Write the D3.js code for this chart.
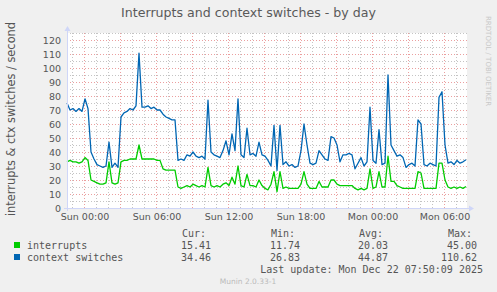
<!DOCTYPE html>
<html>
<head>
<meta charset="utf-8">
<script src="https://cdn.jsdelivr.net/npm/d3@7/dist/d3.min.js"></script>
<style>
  body { margin: 0; background: #f0f0f0; }
  svg { display: block; }
  text { fill: #555; }
</style>
</head>
<body>
<script>
// samples every 15 minutes, starting Sat 20 Dec 22:35
var startTime = new Date(2025, 11, 20, 22, 35);
var stepMinutes = 15;

var interrupts = [
  33, 34, 33, 33, 32, 33, 36, 34, 20, 19,
  18, 17, 17, 18, 33, 18, 17, 18, 33, 34,
  34, 35, 35, 35, 45, 35, 35, 35, 35, 35,
  34, 34, 28, 27, 27, 27, 27, 15, 14, 15,
  16, 15, 17, 16, 15, 16, 15, 29, 16, 15,
  16, 15, 17, 18, 16, 22, 17, 30, 16, 15,
  24, 16, 16, 15, 20, 16, 14, 13, 17, 26,
  11.74, 26, 14, 15, 14, 14, 14, 14, 17, 26,
  17, 14, 14, 14, 19, 15, 15, 15, 20, 20,
  17, 16, 16, 16, 16, 16, 14, 13, 14, 13,
  14, 28, 14, 15, 26, 15, 15, 37, 19, 19,
  16, 15, 14, 14, 14, 14, 14, 26, 25, 14,
  14, 14, 14, 14, 32, 32, 20, 15, 14, 15,
  14, 15, 14, 15.41
];

var contextSwitches = [
  75, 70, 71, 69, 71, 69, 78, 71, 40, 35,
  31, 30, 29, 30, 47, 29, 32, 29, 65, 68,
  69, 71, 70, 73, 110.62, 72, 72, 73, 71, 72,
  70, 70, 67, 65, 64, 63, 63, 34, 35, 34,
  38, 37, 40, 37, 36, 37, 35, 77, 40, 38,
  37, 36, 41, 48, 38, 53, 41, 78, 38, 36,
  57, 38, 39, 37, 47, 38, 37, 34, 30, 59,
  26.83, 59, 31, 33, 30, 31, 29, 30, 41, 60,
  45, 32, 31, 32, 41, 38, 35, 34, 51, 50,
  45, 33, 38, 38, 39, 38, 28, 32, 36, 30,
  33, 72, 34, 32, 56, 31, 32, 95, 45, 41,
  37, 38, 36, 29, 31, 32, 30, 63, 60, 31,
  30, 32, 31, 30, 79, 83, 45, 32, 33, 31,
  34, 32, 33, 34.46
];

var seriesNames = ["interrupts", "context switches"];
var seriesColors = ["#00cc00", "#0066b3"];
var curValues = ["15.41", "34.46"];
var minValues = ["11.74", "26.83"];
var avgValues = ["20.03", "44.87"];
var maxValues = ["45.00", "110.62"];
var yTicks = d3.range(0, 121, 10);

var width = 497, height = 292;
var plot = {left: 67, right: 467, top: 33, bottom: 208};

var endTime = new Date(startTime.getTime() + 400 * 5 * 60000);
var x = d3.scaleTime().domain([startTime, endTime]).range([plot.left, plot.right]);
var y = d3.scaleLinear().domain([0, 125]).range([plot.bottom, plot.top]);

function timeAt(i) { return new Date(startTime.getTime() + i * stepMinutes * 60000); }

var svg = d3.select("body").append("svg")
    .attr("width", width)
    .attr("height", height);

svg.append("rect").attr("width", width).attr("height", height).attr("fill", "#f0f0f0");
svg.append("rect")
    .attr("x", plot.left).attr("y", plot.top)
    .attr("width", plot.right - plot.left).attr("height", plot.bottom - plot.top)
    .attr("fill", "#fff");

// grid
var grid = svg.append("g").attr("shape-rendering", "crispEdges");
var hours = d3.timeHour.range(startTime, endTime);
grid.selectAll(".vgrid")
    .data(hours)
  .enter().append("line")
    .attr("x1", function(d) { return Math.round(x(d)) + 0.5; })
    .attr("x2", function(d) { return Math.round(x(d)) + 0.5; })
    .attr("y1", plot.top).attr("y2", plot.bottom)
    .attr("stroke", function(d) { return d.getHours() % 3 == 0 ? "#eb9f9f" : "#c4c4c4"; })
    .attr("stroke-dasharray", "1,2");

grid.selectAll(".hgrid")
    .data(d3.range(5, 126, 5))
  .enter().append("line")
    .attr("x1", plot.left).attr("x2", plot.right)
    .attr("y1", function(d) { return Math.round(y(d)) + 0.5; })
    .attr("y2", function(d) { return Math.round(y(d)) + 0.5; })
    .attr("stroke", function(d) { return d % 10 == 0 ? "#eb9f9f" : "#c4c4c4"; })
    .attr("stroke-dasharray", "1,2");

// series
var line = d3.line()
    .x(function(d, i) { return x(timeAt(i)); })
    .y(function(d) { return y(d); });

[interrupts, contextSwitches].forEach(function(s, k) {
  svg.append("path")
      .attr("d", line(s))
      .attr("fill", "none")
      .attr("stroke", seriesColors[k])
      .attr("stroke-width", 1.3)
      .attr("stroke-linejoin", "round");
});

// axes with arrows
var axisColor = "#cfd6f8";
svg.append("line").attr("x1", plot.left - 3).attr("x2", plot.right + 3)
    .attr("y1", plot.bottom + 0.5).attr("y2", plot.bottom + 0.5)
    .attr("stroke", axisColor).attr("shape-rendering", "crispEdges");
svg.append("line").attr("x1", plot.left + 0.5).attr("x2", plot.left + 0.5)
    .attr("y1", plot.bottom + 3).attr("y2", plot.top - 3)
    .attr("stroke", axisColor).attr("shape-rendering", "crispEdges");
svg.append("path")
    .attr("d", "M" + (plot.right + 2) + "," + (plot.bottom - 2.5) + "L" + (plot.right + 7) + "," + (plot.bottom + 0.5) + "L" + (plot.right + 2) + "," + (plot.bottom + 3.5) + "Z")
    .attr("fill", axisColor);
svg.append("path")
    .attr("d", "M" + (plot.left - 2.5) + "," + (plot.top - 2) + "L" + (plot.left + 0.5) + "," + (plot.top - 7) + "L" + (plot.left + 3.5) + "," + (plot.top - 2) + "Z")
    .attr("fill", axisColor);

// y tick labels
svg.selectAll(".ylab")
    .data(yTicks)
  .enter().append("text")
    .attr("x", 61)
    .attr("y", function(d) { return y(d) + 3.5; })
    .attr("text-anchor", "end")
    .attr("font-family", "DejaVu Sans")
    .attr("font-size", "9.5px")
    .text(function(d) { return d; });

// x tick labels
var fmt = d3.timeFormat("%a %H:%M");
svg.selectAll(".xlab")
    .data(d3.timeHour.every(6).range(startTime, endTime))
  .enter().append("text")
    .attr("x", function(d) { return x(d) + 1; })
    .attr("y", 220)
    .attr("text-anchor", "middle")
    .attr("font-family", "DejaVu Sans")
    .attr("font-size", "9.5px")
    .text(function(d) { return fmt(d); });

// title and labels
svg.append("text")
    .attr("x", 248.5).attr("y", 17)
    .attr("text-anchor", "middle")
    .attr("font-family", "DejaVu Sans")
    .attr("font-size", "12.6px")
    .style("fill", "#5a5a5a")
    .text("Interrupts and context switches - by day");

svg.append("text")
    .attr("transform", "translate(14.5,119) rotate(-90)")
    .attr("text-anchor", "middle")
    .attr("font-family", "DejaVu Sans")
    .attr("font-size", "11.4px")
    .text("interrupts & ctx switches / second");

svg.append("text")
    .attr("transform", "translate(486,16) rotate(90)")
    .attr("font-family", "DejaVu Sans")
    .attr("font-size", "7px")
    .style("fill", "#c8c8c8")
    .text("RRDTOOL / TOBI OETIKER");

// legend
var mono = "DejaVu Sans Mono";
var headers = [["Cur:", 182], ["Min:", 271], ["Avg:", 359], ["Max:", 448]];
headers.forEach(function(h) {
  svg.append("text").attr("x", h[1]).attr("y", 237)
      .attr("font-family", mono).attr("font-size", "10px").text(h[0]);
});

var columns = [[curValues, 211], [minValues, 300], [avgValues, 388], [maxValues, 477]];
seriesNames.forEach(function(name, k) {
  var rowY = 249 + k * 12;
  svg.append("rect").attr("x", 14).attr("y", rowY - 7).attr("width", 6).attr("height", 6)
      .attr("fill", seriesColors[k]);
  svg.append("text").attr("x", 27).attr("y", rowY)
      .attr("font-family", mono).attr("font-size", "10px").text(name);
  columns.forEach(function(c) {
    svg.append("text").attr("x", c[1]).attr("y", rowY)
        .attr("text-anchor", "end")
        .attr("font-family", mono).attr("font-size", "10px").text(c[0][k]);
  });
});

svg.append("text").attr("x", 483).attr("y", 273)
    .attr("text-anchor", "end")
    .attr("font-family", mono).attr("font-size", "10px")
    .text("Last update: Mon Dec 22 07:50:09 2025");

svg.append("text").attr("x", 248).attr("y", 283.5)
    .attr("text-anchor", "middle")
    .attr("font-family", "DejaVu Sans")
    .attr("font-size", "7.5px")
    .style("fill", "#bbb")
    .text("Munin 2.0.33-1");
</script>
</body>
</html>
